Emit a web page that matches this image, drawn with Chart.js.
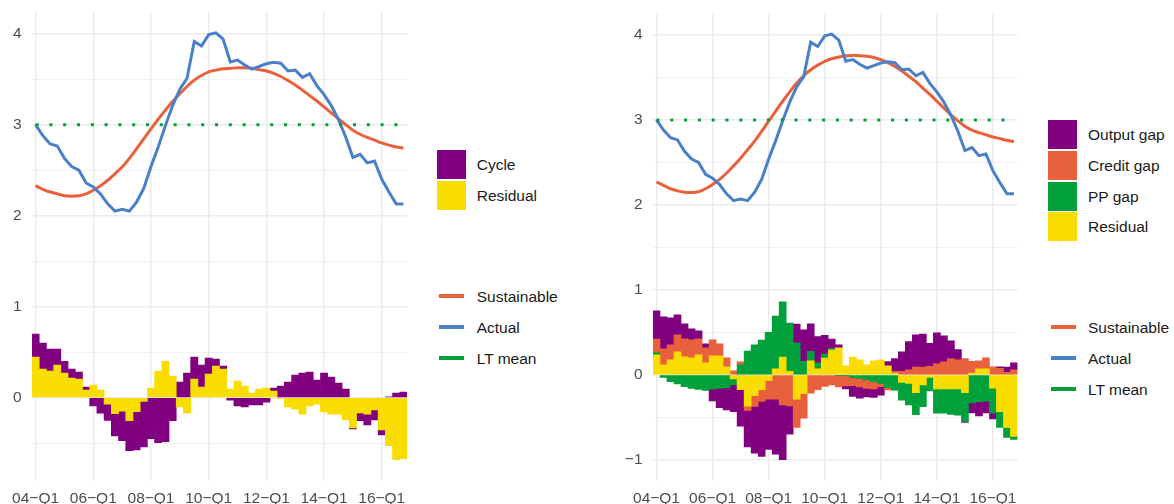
<!DOCTYPE html>
<html lang="en">
<head>
<meta charset="UTF-8">
<title>Sustainable vs actual - decomposition</title>
<script src="https://cdn.jsdelivr.net/npm/chart.js@4.4.1/dist/chart.umd.min.js"></script>
<style>
  body { margin: 0; background: #fff; font-family: "Liberation Sans", Arial, sans-serif; }
  #wrap { position: relative; width: 1174px; height: 504px; overflow: hidden; }
  canvas { position: absolute; top: 0; }
  .txt { position: absolute; font-size: 15.5px; color: #1a1a1a; line-height: 29px; white-space: nowrap; }
  .box { position: absolute; width: 29px; height: 29px; }
  .ln { position: absolute; width: 25px; height: 3.5px; }
</style>
</head>
<body>
<div id="wrap">
  <canvas id="left" width="420" height="504" style="left:0"></canvas>
  <canvas id="right" width="430" height="504" style="left:600px"></canvas>
</div>
<script>
// quarters 2004Q1 .. 2016Q4
const years = ['04','05','06','07','08','09','10','11','12','13','14','15','16'];
const quarters = [];
years.forEach(y => ['Q1','Q2','Q3','Q4'].forEach(q => quarters.push(y + '\u2212' + q)));

const yTicks = [-1, -0.5, 0, 0.5, 1, 1.5, 2, 2.5, 3, 3.5, 4];
const ltMeanLevel = 3;

const actual = [3.00, 2.88, 2.79, 2.765, 2.63, 2.54, 2.50, 2.36, 2.315, 2.24, 2.13, 2.05, 2.07, 2.05, 2.15, 2.30,
  2.54, 2.755, 2.99, 3.21, 3.39, 3.51, 3.915, 3.865, 3.99, 4.01, 3.94, 3.69, 3.71, 3.655, 3.61, 3.64,
  3.67, 3.685, 3.675, 3.59, 3.60, 3.52, 3.56, 3.43, 3.33, 3.21, 3.055, 2.865, 2.64, 2.675, 2.58, 2.60,
  2.40, 2.26, 2.13, 2.13];

// left panel
const sustainableL = [2.33, 2.29, 2.26, 2.24, 2.22, 2.215, 2.22, 2.24, 2.28, 2.33, 2.39, 2.46, 2.535, 2.63, 2.735, 2.845,
  2.955, 3.06, 3.16, 3.255, 3.34, 3.42, 3.49, 3.54, 3.58, 3.60, 3.615, 3.62, 3.625, 3.625, 3.62, 3.605,
  3.59, 3.565, 3.53, 3.485, 3.435, 3.38, 3.32, 3.26, 3.195, 3.13, 3.065, 3.00, 2.94, 2.895, 2.86, 2.83,
  2.80, 2.775, 2.755, 2.745];
const cycleL = [0.253, 0.285, 0.242, 0.175, 0.13, 0.10, 0.077, 0.033, -0.09, -0.17, -0.18, -0.245, -0.326, -0.33, -0.42, -0.50,
  -0.45, -0.495, -0.484, -0.253, 0.172, 0.27, 0.242, 0.242, 0.176, 0.077, 0.033, -0.026, -0.09, -0.10, -0.08, -0.08,
  -0.048, 0.033, 0.128, 0.172, 0.25, 0.27, 0.282, 0.194, 0.27, 0.227, 0.16, 0.095, -0.011, -0.084, -0.12, -0.11,
  -0.055, 0.011, 0.051, 0.062];
const residualL = [0.447, 0.315, 0.293, 0.36, 0.27, 0.216, 0.205, 0.084, 0.14, 0.084, -0.07, -0.176, -0.147, -0.253, -0.154, -0.04,
  0.106, 0.293, 0.40, 0.238, -0.10, -0.168, 0.205, 0.117, 0.26, 0.348, 0.315, 0.095, 0.183, 0.128, 0.05, 0.095,
  0.106, 0.073, -0.01, -0.10, -0.125, -0.18, -0.09, -0.07, -0.157, -0.18, -0.18, -0.245, -0.333, -0.168, -0.18, -0.135,
  -0.355, -0.527, -0.68, -0.67];

// right panel
const sustainableR = [2.27, 2.23, 2.19, 2.165, 2.15, 2.145, 2.155, 2.19, 2.24, 2.30, 2.375, 2.46, 2.55, 2.65, 2.75, 2.865,
  2.985, 3.105, 3.22, 3.33, 3.435, 3.52, 3.59, 3.645, 3.69, 3.72, 3.74, 3.755, 3.76, 3.757, 3.75, 3.735,
  3.71, 3.675, 3.63, 3.575, 3.515, 3.45, 3.375, 3.30, 3.22, 3.14, 3.06, 2.99, 2.925, 2.88, 2.85, 2.825,
  2.80, 2.78, 2.76, 2.745];
const outputGap = [0.33, 0.376, 0.318, 0.235, 0.176, 0.13, 0.094, 0.047, -0.137, -0.227, -0.263, -0.318, -0.43, -0.43, -0.55, -0.647,
  -0.59, -0.647, -0.647, -0.333, 0.22, 0.373, 0.325, 0.31, 0.22, 0.11, 0.035, -0.035, -0.125, -0.133, -0.10, -0.10,
  -0.10, 0.05, 0.15, 0.23, 0.33, 0.38, 0.39, 0.27, 0.365, 0.306, 0.21, 0.12, -0.01, -0.12, -0.165, -0.14,
  -0.067, 0.02, 0.06, 0.08];
const creditGap = [0.16, 0.188, 0.176, 0.20, 0.212, 0.212, 0.188, 0.176, 0.188, 0.14, 0.106, 0.047, 0.035, -0.05, -0.125, -0.137,
  -0.22, -0.286, -0.353, -0.365, -0.333, -0.29, -0.216, -0.176, -0.137, -0.118, -0.137, -0.12, -0.094, -0.10, -0.10, -0.086,
  -0.04, -0.027, 0.02, 0.04, 0.06, 0.09, 0.09, 0.10, 0.13, 0.153, 0.19, 0.176, 0.19, 0.14, 0.094, 0.13,
  0.094, 0.075, 0.03, 0.06];
const ppGap = [0.027, -0.031, -0.082, -0.106, -0.141, -0.16, -0.173, -0.184, -0.17, -0.16, -0.15, -0.07, 0.118, 0.28, 0.353, 0.41,
  0.50, 0.62, 0.65, 0.57, 0.376, 0.157, 0.11, 0.07, 0.05, 0.02, -0.005, -0.01, -0.035, -0.043, -0.06, -0.08,
  -0.10, -0.15, -0.18, -0.21, -0.255, -0.26, -0.255, -0.16, -0.286, -0.286, -0.30, -0.31, -0.34, -0.33, -0.32, -0.31,
  -0.294, -0.184, -0.118, -0.035];
const residualR = [0.235, 0.118, 0.176, 0.27, 0.212, 0.20, 0.235, 0.141, 0.224, 0.224, 0.094, -0.047, -0.176, -0.37, -0.247, -0.176,
  -0.067, 0.07, 0.21, 0.04, -0.286, -0.22, 0.165, 0.07, 0.196, 0.29, 0.318, 0.106, 0.21, 0.176, 0.118, 0.165,
  0.176, 0.106, 0.02, -0.09, -0.10, -0.21, -0.12, -0.03, -0.165, -0.165, -0.165, -0.165, -0.21, 0.02, 0.07, 0.07,
  -0.157, -0.435, -0.62, -0.725];

const purple = '#800080', yellow = '#fadd00', orange = '#e8613c', green = '#00a03b', blue = '#4a80c9';
const gridCol = '#ebebeb', tickCol = '#4d4d4d';
Chart.defaults.font.family = '"Liberation Sans", Arial, sans-serif';
Chart.defaults.font.size = 15.5;

const ltMean = quarters.map(() => ltMeanLevel);

function makePanel(id, bars, sustainable, yMin, yMax, yWidth, padRight, padTop) {
  const lines = [
    { type: 'line', label: 'LT mean', data: ltMean, borderColor: green, borderWidth: 3, borderDash: [3, 10.8],
      borderCapStyle: 'butt', pointRadius: 0, stack: 'lt' },
    { type: 'line', label: 'Actual', data: actual, borderColor: blue, borderWidth: 3, pointRadius: 0, stack: 'act' },
    { type: 'line', label: 'Sustainable', data: sustainable, borderColor: orange, borderWidth: 3, pointRadius: 0,
      tension: 0.3, stack: 'sus' }
  ];
  const barSets = bars.map(b => ({
    type: 'bar', label: b.label, data: b.data, backgroundColor: b.color, stack: 'bars',
    barPercentage: 1, categoryPercentage: 1, borderWidth: 0
  }));
  return new Chart(document.getElementById(id), {
    type: 'bar',
    data: { labels: quarters, datasets: lines.concat(barSets) },
    options: {
      responsive: false,
      animation: false,
      layout: { padding: { top: padTop, right: padRight, left: 0, bottom: 0 } },
      plugins: { legend: { display: false }, tooltip: { enabled: false } },
      scales: {
        x: {
          offset: true,
          afterBuildTicks: s => { s.ticks = s.ticks.filter(t => t.value % 8 === 0); },
          afterFit: s => { s.height = 23; s.paddingLeft = 0; s.paddingRight = 0; },
          border: { display: false },
          grid: { offset: false, color: gridCol, lineWidth: 1.4, drawTicks: false },
          ticks: { autoSkip: false, maxRotation: 0, minRotation: 0, padding: 8, color: tickCol }
        },
        y: {
          min: yMin, max: yMax, stacked: true,
          afterBuildTicks: s => { s.ticks = yTicks.filter(v => v >= yMin && v <= yMax).map(v => ({ value: v })); },
          afterFit: s => { s.width = yWidth; s.paddingTop = 0; s.paddingBottom = 0; },
          border: { display: false },
          grid: { color: gridCol, drawTicks: false,
            lineWidth: c => (c.tick && Number.isInteger(c.tick.value)) ? 1.4 : 0.7 },
          ticks: { padding: 10.5, color: tickCol,
            callback: v => Number.isInteger(v) ? (v < 0 ? '\u2212' + (-v) : String(v)) : '' }
        }
      }
    }
  });
}

makePanel('left', [
  { label: 'Residual', data: residualL, color: yellow },
  { label: 'Cycle', data: cycleL, color: purple }
], sustainableL, -0.915, 4.245, 32, 13, 11.4);

makePanel('right', [
  { label: 'Residual', data: residualR, color: yellow },
  { label: 'PP gap', data: ppGap, color: green },
  { label: 'Credit gap', data: creditGap, color: orange },
  { label: 'Output gap', data: outputGap, color: purple }
], sustainableR, -1.25, 4.26, 53, 12.5, 12.9);

// legends
const wrap = document.getElementById('wrap');
function addLegend(x, boxTop, boxes, lineTop, lineItems) {
  boxes.forEach((b, i) => {
    const top = boxTop + i * 30.8;
    const box = document.createElement('div');
    box.className = 'box';
    box.style.cssText = `left:${x}px;top:${top}px;background:${b.color}`;
    wrap.appendChild(box);
    const t = document.createElement('div');
    t.className = 'txt';
    t.style.cssText = `left:${x + 40}px;top:${top}px`;
    t.textContent = b.label;
    wrap.appendChild(t);
  });
  lineItems.forEach((l, i) => {
    const cy = lineTop + i * 31;
    const ln = document.createElement('div');
    ln.className = 'ln';
    ln.style.cssText = `left:${x + 2.5}px;top:${cy - 1.75}px;background:${l.color}`;
    wrap.appendChild(ln);
    const t = document.createElement('div');
    t.className = 'txt';
    t.style.cssText = `left:${x + 40}px;top:${cy - 14.5}px`;
    t.textContent = l.label;
    wrap.appendChild(t);
  });
}
const lineLegend = [
  { label: 'Sustainable', color: orange },
  { label: 'Actual', color: blue },
  { label: 'LT mean', color: green }
];
addLegend(436.7, 150, [
  { label: 'Cycle', color: purple },
  { label: 'Residual', color: yellow }
], 296, lineLegend);
addLegend(1048, 120, [
  { label: 'Output gap', color: purple },
  { label: 'Credit gap', color: orange },
  { label: 'PP gap', color: green },
  { label: 'Residual', color: yellow }
], 327, lineLegend);
</script>
</body>
</html>
